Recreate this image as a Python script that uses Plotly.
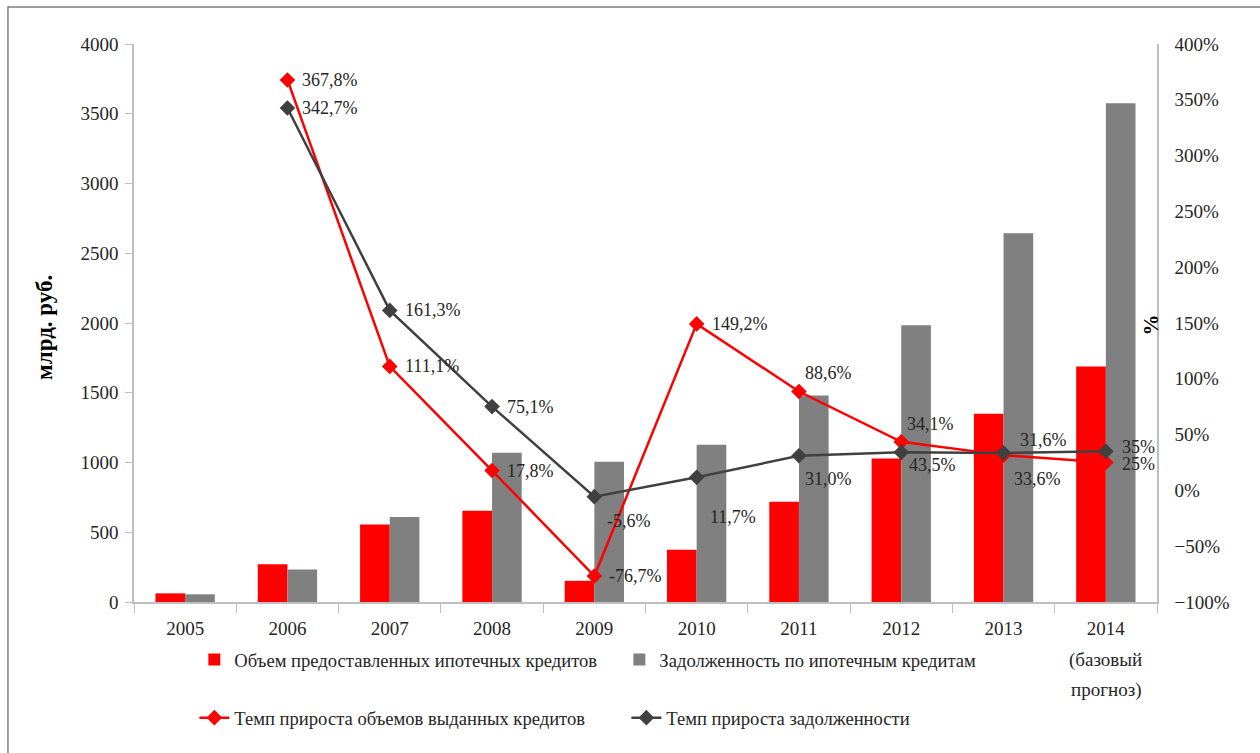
import plotly.graph_objects as go

years = ["2005", "2006", "2007", "2008", "2009", "2010", "2011", "2012", "2013", "2014"]
year_ticktext = ["2005", "2006", "2007", "2008", "2009", "2010", "2011", "2012", "2013", "2014"]
forecast_note = ["(базовый", "прогноз)"]

issued_volume = [62, 271, 556, 655, 152, 374, 718, 1028, 1350, 1688]      # млрд. руб.
debt_volume = [55, 233, 610, 1070, 1005, 1128, 1480, 1983, 2643, 3576]    # млрд. руб.

issued_growth = [None, 367.8, 111.1, 17.8, -76.7, 149.2, 88.6, 43.5, 31.6, 25]   # %
debt_growth = [None, 342.7, 161.3, 75.1, -5.6, 11.7, 31.0, 34.1, 33.6, 35]       # %

name_issued = "Объем предоставленных ипотечных кредитов"
name_debt = "Задолженность по ипотечным кредитам"
name_issued_growth = "Темп прироста объемов выданных кредитов"
name_debt_growth = "Темп прироста задолженности"

# label offsets in pixels (dx right, dy down) -- style only
issued_label_shift = [None, (13, 0), (13, 0), (13, 0), (13, 0), (13, 0), (4, -19), (6, 23), (14, -15), (14, 1)]
debt_label_shift = [None, (13, 0), (13, 0), (13, 0), (11, 24), (11, 40), (4, 23), (4, -28), (8, 26), (14, -4)]

RED = "#FF0000"
GRAY_BAR = "#808080"
GRAY_LINE = "#404040"
FONT = "Liberation Serif"
TXT = "#262626"


def fmt(v):
    if isinstance(v, int):
        return f"{v}%"
    return f"{v:.1f}".replace(".", ",") + "%"


fig = go.Figure()
fig.add_trace(go.Bar(x=years, y=issued_volume, name=name_issued, marker_color=RED,
                     marker_line_width=0, legend="legend"))
fig.add_trace(go.Bar(x=years, y=debt_volume, name=name_debt, marker_color=GRAY_BAR,
                     marker_line_width=0, legend="legend"))
fig.add_trace(go.Scatter(x=years, y=issued_growth, name=name_issued_growth, yaxis="y2",
                         mode="lines+markers", line=dict(color=RED, width=2.5),
                         marker=dict(symbol="diamond", size=12, color=RED),
                         legend="legend2"))
fig.add_trace(go.Scatter(x=years, y=debt_growth, name=name_debt_growth, yaxis="y2",
                         mode="lines+markers", line=dict(color=GRAY_LINE, width=2.5),
                         marker=dict(symbol="diamond", size=12, color=GRAY_LINE),
                         legend="legend2"))

annotations = []
for series, shifts in ((issued_growth, issued_label_shift), (debt_growth, debt_label_shift)):
    for i, (v, sh) in enumerate(zip(series, shifts)):
        if v is None:
            continue
        annotations.append(dict(x=i, y=v, xref="x", yref="y2", text=fmt(v), showarrow=False,
                                xanchor="left", yanchor="middle", xshift=sh[0], yshift=-sh[1],
                                font=dict(family=FONT, size=18, color=TXT)))

# extra lines of the 2014 category label
for k, line in enumerate(forecast_note):
    annotations.append(dict(x=len(years) - 1, y=[-0.104, -0.158][k], xref="x", yref="paper",
                            text=line, showarrow=False, xanchor="center", yanchor="middle",
                            font=dict(family=FONT, size=19, color=TXT)))

annotations.append(dict(x=-0.087, y=0.493, xref="paper", yref="paper", text="<b>млрд. руб.</b>",
                        textangle=-90, showarrow=False, xanchor="center", yanchor="middle",
                        font=dict(family=FONT, size=23, color="#000")))
annotations.append(dict(x=0.994, y=0.497, xref="paper", yref="paper", text="<b>%</b>",
                        textangle=-90, showarrow=False, xanchor="center", yanchor="middle",
                        font=dict(family=FONT, size=21, color="#000")))

fig.update_layout(
    width=1260, height=753,
    margin=dict(l=134, r=103, t=44, b=151),
    paper_bgcolor="white", plot_bgcolor="white",
    barmode="group", bargap=0.42, bargroupgap=0,
    font=dict(family=FONT, size=18, color=TXT),
    xaxis=dict(type="category", range=[-0.5, 9.5], tickmode="array", tickvals=years,
               ticktext=year_ticktext, tickangle=0, ticklabelstandoff=8,
               showgrid=False, showline=True, linecolor="#BFBFBF", linewidth=1.5,
               ticks="outside", tickson="boundaries", ticklen=9, tickcolor="#BFBFBF",
               tickfont=dict(family=FONT, size=19, color=TXT)),
    yaxis=dict(range=[0, 4000], dtick=500, showgrid=False, zeroline=False, showline=True,
               linecolor="#BFBFBF", linewidth=1.5, ticks="outside", ticklen=7, tickcolor="#BFBFBF",
               ticklabelstandoff=3, tickfont=dict(family=FONT, size=19, color=TXT)),
    yaxis2=dict(range=[-100, 400], dtick=50, ticksuffix="%", overlaying="y", side="right",
                showgrid=False, zeroline=False, showline=True, linecolor="#BFBFBF", linewidth=1.5,
                ticks="", ticklabelstandoff=12, tickfont=dict(family=FONT, size=19, color=TXT)),
    legend=dict(orientation="h", x=0.059, y=-0.104, xanchor="left", yanchor="middle",
                entrywidth=380, entrywidthmode="pixels", bgcolor="rgba(0,0,0,0)",
                font=dict(family=FONT, size=18.6, color=TXT), itemclick=False),
    legend2=dict(orientation="h", x=0.059, y=-0.208, xanchor="left", yanchor="middle",
                 entrywidth=387, entrywidthmode="pixels", bgcolor="rgba(0,0,0,0)",
                 font=dict(family=FONT, size=18.6, color=TXT), itemclick=False),
    annotations=annotations,
    shapes=[dict(type="rect", xref="paper", yref="paper", x0=-0.1232, x1=1.2, y0=-0.4, y1=1.0663,
                 line=dict(color="#7F7F7F", width=1.5), fillcolor="rgba(0,0,0,0)", layer="below")],
)

fig.write_html("out.html", config={"displayModeBar": False},
               post_script="document.body.style.margin='0px';")
